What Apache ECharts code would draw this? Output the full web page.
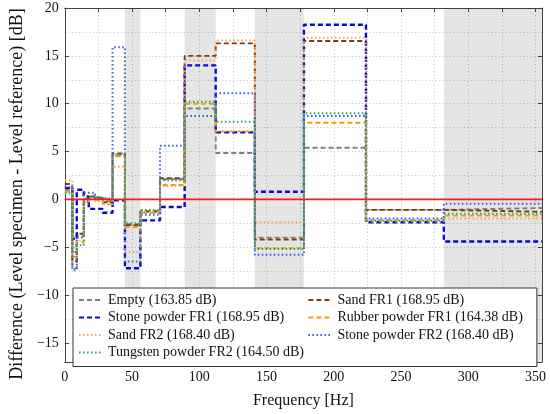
<!DOCTYPE html>
<html><head><meta charset="utf-8">
<script src="https://cdn.jsdelivr.net/npm/echarts@6/dist/echarts.min.js"></script>
<style>html,body{margin:0;padding:0;background:#fff}#c{width:550px;height:414px}</style>
</head><body><div id="c"></div>
<script>
// 1/3-octave band edges [Hz]
const bandEdges = [0, 5.6, 8.9, 14.1, 17.8, 22.4, 28.2, 35.5, 44.7, 56.2, 70.8, 89.1, 112.2, 141.3, 177.8, 223.9, 281.8, 354.8];
const shadedBands = [[44.7, 56.2], [89.1, 112.2], [141.3, 177.8], [281.8, 354.8]];

// Level differences per band [dB]
const empty       = [1.0, -7.2, -3.8, 0.0, 0.2, 0.1, -0.2, 4.6, -2.6, -1.2, 2.1, 9.5, 4.85, -4.0, 5.4, -1.1, -0.9];
const sandFR1     = [1.6, -6.5, -3.6, -0.2, 0.3, 0.1, -0.3, 4.8, -2.7, -1.3, 2.2, 15.0, 16.3, -4.2, 16.55, -1.1, -1.3];
const stoneFR1    = [1.2, -4.1, 1.0, 0.3, -1.0, -1.0, -1.4, -0.1, -7.2, -2.2, -0.8, 14.0, 7.0, 0.8, 18.25, -2.4, -4.4];
const rubberFR1   = [0.8, -6.0, -4.5, -0.3, 0.0, -0.2, -0.5, 4.5, -2.9, -1.4, 1.5, 10.0, 7.1, -5.1, 8.0, -2.2, -1.7];
const sandFR2     = [2.0, -5.0, -4.3, -0.5, 0.1, -0.2, -0.5, 3.4, -5.5, -1.3, 1.4, 14.5, 16.6, -2.4, 16.9, -2.3, -2.0];
const stoneFR2    = [1.3, -7.4, -4.0, 0.7, 0.7, 0.1, 0.0, 15.9, -6.5, -1.6, 5.6, 8.7, 11.1, -5.8, 8.7, -2.0, -0.45];
const tungstenFR2 = [0.6, -5.5, -4.8, 0.1, 0.3, 0.2, 0.0, 4.7, -2.5, -1.1, 2.0, 10.2, 8.1, -5.2, 9.0, -2.2, -1.5];

const names = {
  empty: 'Empty (163.85 dB)',
  sandFR1: 'Sand FR1 (168.95 dB)',
  stoneFR1: 'Stone powder FR1 (168.95 dB)',
  rubberFR1: 'Rubber powder FR1 (164.38 dB)',
  sandFR2: 'Sand FR2 (168.40 dB)',
  stoneFR2: 'Stone powder FR2 (168.40 dB)',
  tungstenFR2: 'Tungsten powder FR2 (164.50 dB)'
};
const legendOrder = [names.empty, names.stoneFR1, names.sandFR2, names.tungstenFR2, names.sandFR1, names.rubberFR1, names.stoneFR2];

const FONT = 'Liberation Serif';
const DASH = [5, 3];
const DOT = [1.6, 2.4];

function stepData(vals) {
  const d = vals.map((v, i) => [bandEdges[i], v]);
  d.push([bandEdges[vals.length], vals[vals.length - 1]]);
  return d;
}
function mk(name, vals, color, type, width) {
  return {
    name: name, type: 'line', step: 'end', symbol: 'none', data: stepData(vals),
    lineStyle: { color: color, type: type, width: width }, itemStyle: { color: color },
    emphasis: { disabled: true }, animation: false
  };
}

const shadeSeries = {
  name: 'shade', type: 'line', data: [[0, 0], [354.8, 0]], symbol: 'none',
  lineStyle: { opacity: 0 }, silent: true, animation: false,
  markArea: {
    silent: true,
    itemStyle: { color: 'rgba(0,0,0,0.10)' },
    data: shadedBands.map(b => [{ xAxis: b[0] }, { xAxis: b[1] }])
  }
};
const zeroSeries = {
  name: 'zero', type: 'line', data: [[0, 0], [354.8, 0]], symbol: 'none', z: 5,
  lineStyle: { color: '#ff1a1a', width: 1.8, type: 'solid', opacity: 1 }, silent: true, animation: false
};

const minus = v => String(v).replace('-', '\u2212');
const xLabel = v => (v % 50 === 0 ? String(v) : '');
const gridLine = { show: true, lineStyle: { color: '#c0c0c0', type: [1, 2.5], width: 1 } };
const tickStyle = { show: true, inside: true, length: 4, lineStyle: { color: '#444' } };
const axisLineStyle = { show: true, onZero: false, lineStyle: { color: '#444', width: 1 } };

const option = {
  backgroundColor: '#fff',
  animation: false,
  grid: { left: 62, right: 8, top: 8, bottom: 44.5, containLabel: false },
  legend: {
    data: legendOrder, orient: 'vertical', left: 73, top: 288, height: 70,
    padding: [5, 14, 7, 5], itemGap: 3.5, itemWidth: 24, itemHeight: 13,
    borderColor: '#333', borderWidth: 1, backgroundColor: '#fff',
    itemStyle: { color: 'rgba(0,0,0,0)', borderColor: 'rgba(0,0,0,0)', borderWidth: 0, opacity: 0 },
    textStyle: { fontFamily: FONT, fontSize: 14, lineHeight: 14, color: '#111' },
    selectedMode: false
  },
  xAxis: [{
    type: 'value', min: 0, max: 354.8, interval: 25, position: 'bottom',
    name: 'Frequency [Hz]', nameLocation: 'middle', nameGap: 31,
    nameTextStyle: { fontFamily: FONT, fontSize: 16, color: '#111' },
    axisLine: axisLineStyle, axisTick: tickStyle,
    splitLine: gridLine,
    axisLabel: { fontFamily: FONT, fontSize: 14, color: '#111', margin: 8, showMaxLabel: false, formatter: xLabel }
  }, {
    type: 'value', min: 0, max: 354.8, interval: 25, position: 'top',
    axisLine: axisLineStyle, axisTick: tickStyle,
    splitLine: { show: false }, axisLabel: { show: false }
  }],
  yAxis: [{
    type: 'value', min: -17, max: 20, splitNumber: 8, position: 'left',
    name: 'Difference (Level specimen - Level reference) [dB]', nameLocation: 'middle', nameGap: 34.5,
    nameTextStyle: { fontFamily: FONT, fontSize: 18, color: '#111', padding: [0, 18, 0, 0] },
    axisLine: axisLineStyle, axisTick: tickStyle,
    minorTick: { show: false, splitNumber: 2 },
    splitLine: gridLine, minorSplitLine: gridLine,
    axisLabel: { fontFamily: FONT, fontSize: 14, color: '#111', margin: 6, showMinLabel: false, formatter: minus }
  }, {
    type: 'value', min: -17, max: 20, splitNumber: 8, position: 'right',
    axisLine: axisLineStyle, axisTick: tickStyle,
    splitLine: { show: false }, axisLabel: { show: false }
  }],
  series: [
    shadeSeries,
    mk(names.empty, empty, '#7f7f7f', DASH, 1.9),
    mk(names.sandFR1, sandFR1, '#7a3c12', DASH, 1.9),
    mk(names.stoneFR1, stoneFR1, '#0a0ad0', DASH, 2.4),
    mk(names.rubberFR1, rubberFR1, '#f0a000', DASH, 1.9),
    mk(names.sandFR2, sandFR2, '#f2a860', DOT, 2),
    mk(names.stoneFR2, stoneFR2, '#3a62e0', DOT, 2),
    mk(names.tungstenFR2, tungstenFR2, '#2ea866', DOT, 2),
    zeroSeries
  ]
};
const chart = echarts.init(document.getElementById('c'), null, { renderer: 'canvas' });
chart.setOption(option);
</script></body></html>
